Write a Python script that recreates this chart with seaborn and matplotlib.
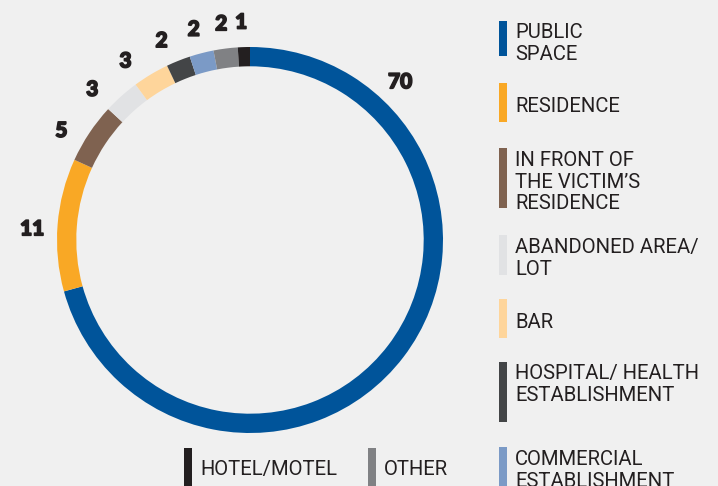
import matplotlib
matplotlib.use("Agg")
import matplotlib.pyplot as plt
import matplotlib.patheffects as pe
import numpy as np
import seaborn as sns
from matplotlib import font_manager
from matplotlib.patches import Rectangle

# data, clockwise from 12 o'clock
categories = ["PUBLIC\nSPACE", "RESIDENCE", "IN FRONT OF\nTHE VICTIM\u2019S\nRESIDENCE",
              "ABANDONED AREA/\nLOT", "BAR", "HOSPITAL/ HEALTH\nESTABLISHMENT",
              "COMMERCIAL\nESTABLISHMENT", "OTHER", "HOTEL/MOTEL"]
counts = [70, 11, 5, 3, 3, 2, 2, 2, 1]
colors = ["#00549a", "#f9a825", "#7f6250", "#e1e2e4", "#fed59b",
          "#434547", "#7b9ac6", "#808184", "#231f20"]

BG = "#f0f0f0"
INK = "#231f20"

sns.set_theme(style="white", rc={"figure.facecolor": BG, "axes.facecolor": BG,
                                 "savefig.facecolor": BG})
installed = {f.name for f in font_manager.fontManager.ttflist}
legend_font = "Roboto" if "Roboto" in installed else "DejaVu Sans"
num_font = "Lato" if "Lato" in installed else "DejaVu Sans"
plt.rcParams["font.family"] = [legend_font, "DejaVu Sans"]

W, H = 718, 486
fig = plt.figure(figsize=(W / 100, H / 100), dpi=100)

# ring: centre at (250, 240) px, outer radius 193 px
R = 193.0
cx, cy = 250.0, 240.0
ax = fig.add_axes([0, 0, 1, 1])
wedges, _ = ax.pie(counts, colors=colors, startangle=90, counterclock=False,
                   wedgeprops=dict(width=0.1, linewidth=0))
ax.set_xlim(-cx / R, (W - cx) / R)
ax.set_ylim(-(H - cy) / R, cy / R)
ax.set_aspect("auto")
ax.axis("off")

# small angular nudges (degrees, counter-clockwise) for the value labels
nudge = [0, 1.6, 3.5, 4.5, 3.9, 2.1, 0.4, 0.3, 0.5]
big = int(np.argmax(counts))
for i, (w, v) in enumerate(zip(wedges, counts)):
    ang = 46.5 if i == big else (w.theta1 + w.theta2) / 2 + nudge[i]
    r = 1.13
    ax.text(r * np.cos(np.radians(ang)), r * np.sin(np.radians(ang)), str(v),
            ha="center", va="center", fontsize=15, fontweight="black",
            family=[num_font, "DejaVu Sans"], color=INK,
            path_effects=[pe.withStroke(linewidth=1.2, foreground=INK)])

# legend overlay in pixel coords
lg = fig.add_axes([0, 0, 1, 1], facecolor="none")
lg.set_xlim(0, W)
lg.set_ylim(H, 0)
lg.axis("off")

# (bar x, bar top, bar bottom, text x, first baseline)
slots = [(499, 21, 56, 515, 38), (499, 83, 122, 515, 112), (499, 148, 208, 515, 166),
         (499, 235, 275, 515, 253), (499, 299, 338, 515, 328), (499, 362, 422, 515, 379),
         (499, 447, 490, 515, 465), (368, 448, 490, 384, 475), (184, 448, 490, 200, 475)]
for name, col, (bx, top, bot, tx, base) in zip(categories, colors, slots):
    lg.add_patch(Rectangle((bx, top), 8, bot - top, color=col, lw=0))
    for k, line in enumerate(name.split("\n")):
        lg.text(tx, base + 21.5 * k, line, ha="left", va="baseline",
                fontsize=14.6, color=INK)

fig.savefig("out.png", dpi=100)
